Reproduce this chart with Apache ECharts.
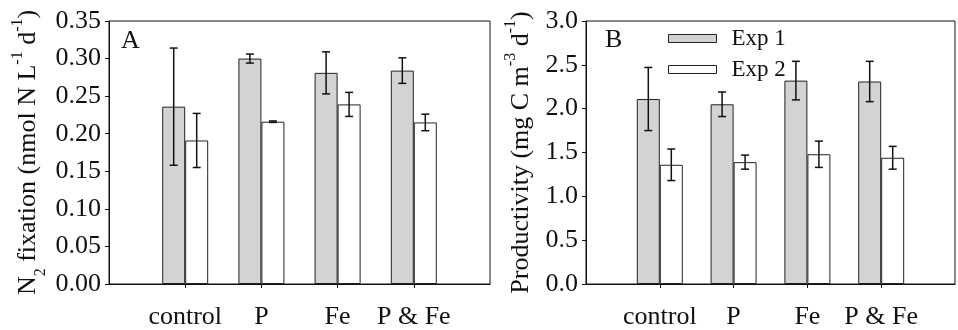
<!DOCTYPE html>
<html>
<head>
<meta charset="utf-8">
<script src="https://cdn.jsdelivr.net/npm/echarts@6/dist/echarts.min.js"></script>
<style>
  html, body { margin: 0; padding: 0; background: #fff; }
  #chart { width: 958px; height: 330px; }
</style>
</head>
<body>
<div id="chart"></div>
<script>
// categories (empty slots at both ends keep the bars off the frame)
var categories = ['', 'control', 'P', 'Fe', 'P & Fe', ''];

// panel A: N2 fixation
var n2Exp1 = [0.236, 0.300, 0.281, 0.284];
var n2Exp1Err = [0.078, 0.006, 0.028, 0.017];
var n2Exp2 = [0.191, 0.216, 0.239, 0.215];
var n2Exp2Err = [0.036, 0.001, 0.016, 0.011];

// panel B: productivity
var prodExp1 = [2.11, 2.05, 2.32, 2.31];
var prodExp1Err = [0.36, 0.14, 0.22, 0.23];
var prodExp2 = [1.36, 1.39, 1.48, 1.44];
var prodExp2Err = [0.18, 0.08, 0.15, 0.13];

var n2Ticks = [0, 0.35, 0.05];
var prodTicks = [0, 3.0, 0.5];

var FONT = '"Liberation Serif", "Times New Roman", serif';
var FS = 26;
var BAR_W = 23;

function pad(arr) {
    return ['-'].concat(arr).concat(['-']);
}

function errSeries(name, xi, yi, vals, errs, side) {
    var data = vals.map(function (v, i) { return [i + 1, v, errs[i]]; });
    return {
        name: name + ' err',
        type: 'custom',
        xAxisIndex: xi,
        yAxisIndex: yi,
        z: 5,
        silent: true,
        data: data,
        renderItem: function (params, api) {
            var x = api.value(0), v = api.value(1), e = api.value(2);
            var hi = api.coord([x, v + e]);
            var lo = api.coord([x, v - e]);
            var cx = hi[0] + side * BAR_W / 2;
            var cap = 4;
            var st = { stroke: '#111', lineWidth: 1.5 };
            return {
                type: 'group',
                children: [
                    { type: 'line', shape: { x1: cx, y1: hi[1], x2: cx, y2: lo[1] }, style: st },
                    { type: 'line', shape: { x1: cx - cap, y1: hi[1], x2: cx + cap, y2: hi[1] }, style: st },
                    { type: 'line', shape: { x1: cx - cap, y1: lo[1], x2: cx + cap, y2: lo[1] }, style: st }
                ]
            };
        }
    };
}

function barSeries(name, xi, yi, vals, color) {
    return {
        name: name,
        type: 'bar',
        xAxisIndex: xi,
        yAxisIndex: yi,
        barWidth: BAR_W,
        barGap: '0%',
        data: pad(vals),
        itemStyle: { color: color, borderColor: '#222', borderWidth: 1 }
    };
}

function xAxis(gi) {
    return {
        type: 'category',
        gridIndex: gi,
        data: categories,
        boundaryGap: false,
        axisLine: { lineStyle: { color: '#111', width: 1 } },
        axisTick: {
            length: 4,
            lineStyle: { color: '#111' },
            interval: function (i) { return i > 0 && i < categories.length - 1; }
        },
        axisLabel: { color: '#111', fontFamily: FONT, fontSize: FS, margin: 20, interval: 0 },
        splitLine: { show: false }
    };
}

function yAxis(gi, ticks, dec, rich, nameGap) {
    return {
        type: 'value',
        gridIndex: gi,
        min: ticks[0],
        max: ticks[1],
        interval: ticks[2],
        name: rich,
        nameLocation: 'middle',
        nameRotate: 90,
        nameGap: nameGap,
        nameTextStyle: {
            color: '#111', fontFamily: FONT, fontSize: FS,
            rich: {
                sub: { fontFamily: FONT, fontSize: 16, verticalAlign: 'bottom', padding: [0, 0, -8, 0], color: '#111' },
                sup: { fontFamily: FONT, fontSize: 16, verticalAlign: 'top', padding: [-5, 0, 0, 0], color: '#111' }
            }
        },
        axisLine: { show: true, lineStyle: { color: '#111', width: 1 } },
        axisTick: { show: true, length: 4, lineStyle: { color: '#111' } },
        axisLabel: {
            color: '#111', fontFamily: FONT, fontSize: FS, margin: 8,
            formatter: function (v) { return v.toFixed(dec); }
        },
        splitLine: { show: false }
    };
}

var chart = echarts.init(document.getElementById('chart'));
chart.setOption({
    animation: false,
    backgroundColor: '#fff',
    grid: [
        { left: 109, top: 21, width: 381, height: 266, show: true, borderColor: '#111', borderWidth: 1, backgroundColor: 'transparent' },
        { left: 586, top: 21, width: 378, height: 265, show: true, borderColor: '#111', borderWidth: 1, backgroundColor: 'transparent' }
    ],
    legend: {
        data: ['Exp 1', 'Exp 2'],
        orient: 'vertical',
        left: 663,
        top: 22,
        icon: 'rect',
        itemWidth: 48,
        itemHeight: 8,
        itemGap: 8,
        textStyle: { color: '#111', fontFamily: FONT, fontSize: 23, padding: [0, 0, 0, 10] },
        itemStyle: { borderColor: '#222', borderWidth: 1 }
    },
    graphic: [
        { type: 'text', left: 121, top: 28, style: { text: 'A', font: FS + 'px ' + FONT, fill: '#111' } },
        { type: 'text', left: 605, top: 27, style: { text: 'B', font: FS + 'px ' + FONT, fill: '#111' } }
    ],
    xAxis: [xAxis(0), xAxis(1)],
    yAxis: [
        yAxis(0, n2Ticks, 2, 'N{sub|2} fixation (nmol N L{sup|-1} d{sup|-1})', 68),
        yAxis(1, prodTicks, 1, 'Productivity (mg C m{sup|-3} d{sup|-1})', 52)
    ],
    series: [
        barSeries('Exp 1', 0, 0, n2Exp1, '#d3d3d3'),
        barSeries('Exp 2', 0, 0, n2Exp2, '#ffffff'),
        barSeries('Exp 1', 1, 1, prodExp1, '#d3d3d3'),
        barSeries('Exp 2', 1, 1, prodExp2, '#ffffff'),
        errSeries('Exp 1', 0, 0, n2Exp1, n2Exp1Err, -1),
        errSeries('Exp 2', 0, 0, n2Exp2, n2Exp2Err, 1),
        errSeries('Exp 1', 1, 1, prodExp1, prodExp1Err, -1),
        errSeries('Exp 2', 1, 1, prodExp2, prodExp2Err, 1)
    ]
});
</script>
</body>
</html>
